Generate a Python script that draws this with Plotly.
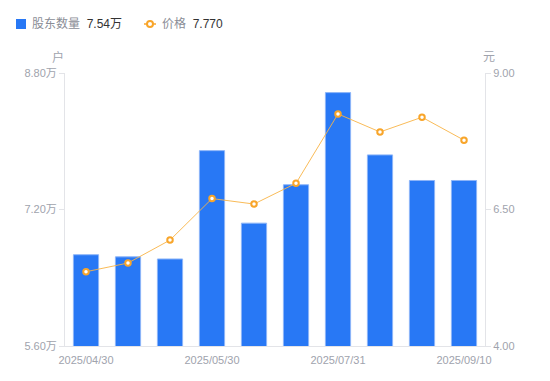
import plotly.graph_objects as go

# Data
positions = list(range(10))
tick_positions = [0, 3, 6, 9]
tick_labels = ["2025/04/30", "2025/05/30", "2025/07/31", "2025/09/10"]
holders_wan = [6.67, 6.645, 6.62, 7.89, 7.04, 7.49, 8.57, 7.84, 7.54, 7.54]
price = [5.36, 5.52, 5.94, 6.70, 6.60, 6.98, 8.25, 7.92, 8.19, 7.77]

left_ticks = [5.60, 7.20, 8.80]
right_ticks = [4.00, 6.50, 9.00]

BLUE = "#2878F5"
ORANGE = "#F8A52A"
GRAY = "#A0A3AD"
FONT = "Liberation Sans, Noto Sans CJK SC, sans-serif"

fig = go.Figure()
fig.add_trace(go.Bar(
    x=positions, y=holders_wan, width=0.6,
    marker=dict(color=BLUE, line=dict(color="#8DB5F8", width=1)),
    yaxis="y", showlegend=False, hoverinfo="skip",
))
fig.add_trace(go.Scatter(
    x=positions, y=price, mode="lines+markers",
    line=dict(color="rgba(248,180,70,0.9)", width=1),
    marker=dict(size=5.5, color="white", line=dict(color=ORANGE, width=2)),
    yaxis="y2", showlegend=False, hoverinfo="skip",
))

fig.update_layout(
    width=550, height=381,
    margin=dict(l=65, r=65, t=73, b=35),
    paper_bgcolor="white", plot_bgcolor="white",
    font=dict(family=FONT, size=11, color=GRAY),
    bargap=0.4,
    xaxis=dict(
        range=[-0.5, 9.5], tickvals=tick_positions, ticktext=tick_labels,
        showgrid=False, zeroline=False, showline=True, linecolor="#E3E4E8",
        linewidth=1, ticks="", ticklabelstandoff=4,
        tickfont=dict(size=11, color=GRAY),
    ),
    yaxis=dict(
        range=[5.60, 8.80], tickvals=left_ticks,
        ticktext=[f"{v:.2f}万" for v in left_ticks],
        showgrid=False, zeroline=False, showline=True, linecolor="#E3E4E8",
        ticks="outside", ticklen=5, tickcolor="#E3E4E8",
        tickfont=dict(size=11, color=GRAY),
    ),
    yaxis2=dict(
        range=[4.00, 9.00], tickvals=right_ticks,
        ticktext=[f"{v:.2f}" for v in right_ticks],
        overlaying="y", side="right",
        showgrid=False, zeroline=False, showline=True, linecolor="#E3E4E8",
        ticks="outside", ticklen=5, tickcolor="#E3E4E8",
        tickfont=dict(size=11, color=GRAY),
    ),
)

# axis unit titles
fig.add_annotation(xref="paper", yref="paper", x=-0.017, y=1.0, yshift=16,
                   text="户", showarrow=False, font=dict(size=12, color=GRAY),
                   xanchor="center", yanchor="middle")
fig.add_annotation(xref="paper", yref="paper", x=1.01, y=1.0, yshift=16,
                   text="元", showarrow=False, font=dict(size=12, color=GRAY),
                   xanchor="center", yanchor="middle")

# custom legend (pixel-placed in paper coords)
def px_x(px):
    return (px - 65) / 420

def px_y(py):
    return (346 - py) / 273

fig.add_shape(type="rect", xref="paper", yref="paper",
              x0=px_x(16), x1=px_x(26), y0=px_y(29), y1=px_y(19),
              fillcolor=BLUE, line=dict(width=0))
fig.add_annotation(xref="paper", yref="paper", x=px_x(30), y=px_y(24),
                   text="股东数量 <span style='color:#333'> 7.54万</span>",
                   showarrow=False, xanchor="left", yanchor="middle",
                   font=dict(size=12, color="#8A8D96"))
fig.add_shape(type="line", xref="paper", yref="paper",
              x0=px_x(144), x1=px_x(156), y0=px_y(24), y1=px_y(24),
              line=dict(color=ORANGE, width=1.5))
fig.add_shape(type="circle", xref="paper", yref="paper",
              x0=px_x(147), x1=px_x(153), y0=px_y(27), y1=px_y(21),
              fillcolor="white", line=dict(color=ORANGE, width=2))
fig.add_annotation(xref="paper", yref="paper", x=px_x(160), y=px_y(24),
                   text="价格 <span style='color:#333'> 7.770</span>",
                   showarrow=False, xanchor="left", yanchor="middle",
                   font=dict(size=12, color="#8A8D96"))

fig.write_html("out.html", config={"displayModeBar": False},
               post_script="document.body.style.margin='0';")
